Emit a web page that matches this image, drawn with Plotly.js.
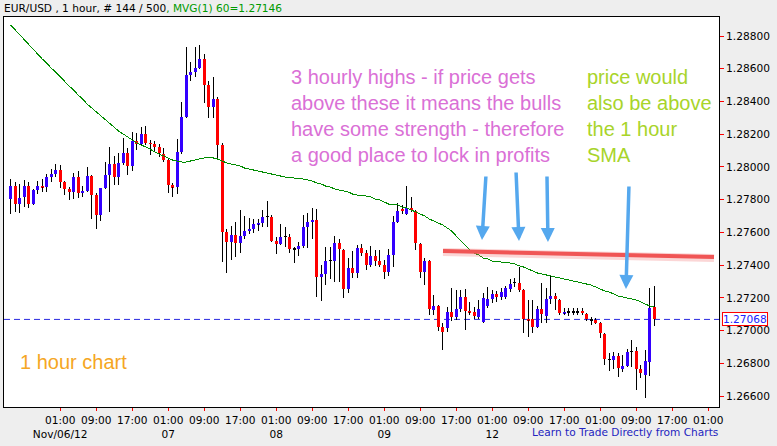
<!DOCTYPE html>
<html><head><meta charset="utf-8">
<script src="https://cdn.plot.ly/plotly-3.0.1.min.js"></script>
<style>
html,body{margin:0;padding:0;background:#eeeeee;}
#chart{width:777px;height:446px;}
.scatterlayer .js-line{shape-rendering:crispEdges;}
</style></head>
<body><div id="chart"></div>
<script>
// EUR/USD 1-hour candles (bar index 0..143)
const openP = [1.27804,1.27883,1.27773,1.27816,1.27883,1.27773,1.27859,1.27883,1.27877,1.27938,
1.27957,1.27981,1.27908,1.27865,1.27847,1.27938,1.27841,1.27853,1.27944,1.27828,
1.27706,1.27871,1.27951,1.28018,1.27938,1.28024,1.28085,1.28006,1.28158,1.28140,
1.28201,1.28146,1.28140,1.28122,1.28079,1.28042,1.27889,1.27877,1.28091,1.28305,
1.28562,1.28580,1.28604,1.28660,1.28501,1.28366,1.28415,1.28134,1.27602,1.27541,
1.27584,1.27535,1.27578,1.27608,1.27621,1.27651,1.27657,1.27694,1.27694,1.27547,
1.27529,1.27572,1.27572,1.27498,1.27498,1.27517,1.27633,1.27663,1.27676,1.27327,
1.27346,1.27425,1.27425,1.27535,1.27492,1.27254,1.27382,1.27352,1.27504,1.27474,
1.27401,1.27456,1.27425,1.27401,1.27358,1.27462,1.27663,1.27743,1.27712,1.27749,
1.27731,1.27529,1.27358,1.27425,1.27126,1.27150,1.27022,1.27016,1.27113,1.27083,
1.27132,1.27205,1.27120,1.27113,1.27083,1.27052,1.27150,1.27193,1.27223,1.27205,
1.27205,1.27254,1.27291,1.27291,1.27248,1.27071,1.27071,1.27022,1.27132,1.27089,
1.27193,1.27211,1.27187,1.27107,1.27113,1.27113,1.27113,1.27120,1.27101,1.27064,
1.27064,1.27046,1.26979,1.26820,1.26820,1.26845,1.26765,1.26783,1.26869,1.26875,
1.26765,1.26728,1.26808,1.27144];
const highP = [1.27926,1.27908,1.27896,1.27920,1.27908,1.27865,1.27914,1.27926,1.27957,1.27987,
1.28018,1.28012,1.27914,1.27877,1.27963,1.27975,1.27883,1.27999,1.27951,1.27841,
1.27871,1.28030,1.28122,1.28067,1.28085,1.28177,1.28116,1.28213,1.28207,1.28244,
1.28250,1.28164,1.28158,1.28140,1.28116,1.28055,1.27902,1.28171,1.28397,1.28733,
1.28641,1.28733,1.28745,1.28690,1.28525,1.28550,1.28427,1.28146,1.27621,1.27639,
1.27663,1.27737,1.27700,1.27688,1.27682,1.27682,1.27737,1.27792,1.27706,1.27572,
1.27651,1.27633,1.27590,1.27511,1.27541,1.27706,1.27718,1.27749,1.27743,1.27401,
1.27511,1.27511,1.27578,1.27560,1.27498,1.27443,1.27486,1.27523,1.27529,1.27492,
1.27517,1.27492,1.27492,1.27431,1.27498,1.27700,1.27779,1.27767,1.27883,1.27816,
1.27737,1.27535,1.27443,1.27431,1.27217,1.27156,1.27046,1.27144,1.27260,1.27248,
1.27248,1.27254,1.27174,1.27144,1.27187,1.27230,1.27266,1.27248,1.27242,1.27260,
1.27272,1.27315,1.27321,1.27388,1.27254,1.27187,1.27187,1.27150,1.27291,1.27260,
1.27333,1.27230,1.27193,1.27138,1.27138,1.27138,1.27138,1.27138,1.27107,1.27083,
1.27077,1.27052,1.26985,1.26863,1.26869,1.26863,1.26851,1.26887,1.26942,1.26900,
1.26790,1.26881,1.27260,1.27272];
const lowP = [1.27712,1.27725,1.27718,1.27755,1.27749,1.27767,1.27834,1.27847,1.27847,1.27908,
1.27938,1.27871,1.27828,1.27798,1.27804,1.27810,1.27816,1.27847,1.27682,1.27621,
1.27669,1.27865,1.27725,1.27889,1.27889,1.28012,1.27951,1.27975,1.28103,1.28128,
1.28134,1.28073,1.28091,1.28061,1.28030,1.27841,1.27816,1.27834,1.28079,1.28299,
1.28525,1.28550,1.28598,1.28391,1.28299,1.28299,1.28055,1.27419,1.27352,1.27431,
1.27450,1.27474,1.27560,1.27590,1.27596,1.27608,1.27633,1.27633,1.27541,1.27468,
1.27523,1.27511,1.27474,1.27413,1.27456,1.27504,1.27504,1.27560,1.27205,1.27181,
1.27278,1.27315,1.27297,1.27297,1.27199,1.27230,1.27321,1.27321,1.27456,1.27370,
1.27388,1.27394,1.27388,1.27315,1.27333,1.27388,1.27657,1.27712,1.27706,1.27725,
1.27492,1.27321,1.27278,1.27095,1.27095,1.26997,1.26881,1.26991,1.27058,1.27064,
1.27113,1.27003,1.27095,1.27071,1.27071,1.27046,1.27138,1.27168,1.27174,1.27187,
1.27193,1.27236,1.27266,1.27236,1.26985,1.26961,1.26985,1.27016,1.27046,1.27046,
1.27162,1.27126,1.27095,1.27095,1.27089,1.27095,1.27095,1.27095,1.27058,1.27034,
1.27040,1.26954,1.26790,1.26753,1.26765,1.26716,1.26747,1.26777,1.26777,1.26637,
1.26710,1.26588,1.26722,1.27028];
const closeP = [1.27883,1.27773,1.27810,1.27883,1.27773,1.27859,1.27883,1.27877,1.27938,1.27957,
1.27981,1.27908,1.27865,1.27847,1.27938,1.27841,1.27853,1.27944,1.27828,1.27706,
1.27871,1.27951,1.28018,1.27938,1.28024,1.28085,1.28006,1.28158,1.28140,1.28201,
1.28146,1.28140,1.28122,1.28085,1.28042,1.27889,1.27877,1.28091,1.28305,1.28562,
1.28580,1.28604,1.28660,1.28501,1.28366,1.28415,1.28134,1.27602,1.27541,1.27584,
1.27535,1.27578,1.27608,1.27621,1.27651,1.27657,1.27694,1.27694,1.27547,1.27529,
1.27572,1.27572,1.27498,1.27498,1.27517,1.27633,1.27663,1.27676,1.27327,1.27346,
1.27425,1.27425,1.27535,1.27498,1.27254,1.27382,1.27352,1.27504,1.27474,1.27401,
1.27456,1.27425,1.27401,1.27358,1.27462,1.27663,1.27731,1.27731,1.27749,1.27737,
1.27535,1.27358,1.27425,1.27132,1.27150,1.27022,1.26991,1.27113,1.27083,1.27132,
1.27205,1.27120,1.27113,1.27089,1.27132,1.27199,1.27193,1.27223,1.27205,1.27236,
1.27260,1.27284,1.27291,1.27248,1.27071,1.27064,1.27022,1.27132,1.27101,1.27193,
1.27211,1.27193,1.27107,1.27113,1.27113,1.27113,1.27113,1.27107,1.27071,1.27064,
1.27046,1.26985,1.26826,1.26820,1.26845,1.26771,1.26783,1.26869,1.26869,1.26765,
1.26741,1.26814,1.27138,1.27068];
// 60-period moving average
const ma60 = [1.28867,1.28837,1.28806,1.28776,1.28751,1.28721,1.28690,1.28660,1.28635,1.28604,
1.28580,1.28550,1.28525,1.28494,1.28470,1.28439,1.28415,1.28384,1.28360,1.28336,
1.28311,1.28287,1.28262,1.28238,1.28219,1.28201,1.28183,1.28164,1.28146,1.28134,
1.28122,1.28109,1.28091,1.28079,1.28067,1.28055,1.28042,1.28036,1.28030,1.28030,
1.28036,1.28042,1.28048,1.28055,1.28055,1.28055,1.28048,1.28036,1.28024,1.28018,
1.28012,1.28006,1.27993,1.27987,1.27981,1.27975,1.27969,1.27963,1.27957,1.27951,
1.27944,1.27938,1.27938,1.27932,1.27932,1.27926,1.27920,1.27914,1.27902,1.27896,
1.27883,1.27877,1.27865,1.27859,1.27853,1.27847,1.27834,1.27828,1.27828,1.27822,
1.27816,1.27804,1.27798,1.27786,1.27773,1.27773,1.27767,1.27755,1.27749,1.27737,
1.27725,1.27712,1.27700,1.27682,1.27670,1.27657,1.27645,1.27627,1.27608,1.27578,
1.27553,1.27523,1.27492,1.27474,1.27462,1.27443,1.27437,1.27425,1.27425,1.27419,
1.27413,1.27413,1.27407,1.27395,1.27388,1.27376,1.27364,1.27352,1.27346,1.27340,
1.27333,1.27327,1.27321,1.27315,1.27309,1.27303,1.27297,1.27291,1.27285,1.27278,
1.27266,1.27254,1.27242,1.27236,1.27223,1.27211,1.27205,1.27199,1.27193,1.27187,
1.27175,1.27162,1.27150,1.27146];
const tickTimes = ["01:00","09:00","17:00","01:00","09:00","17:00","01:00","09:00","17:00","01:00",
"09:00","17:00","01:00","09:00","17:00","01:00","09:00","17:00","01:00"];
const tickDates = ["Nov/06/12","","","07","","","08","","","09","","","12","","","","","",""];

const N = openP.length;
const xs = openP.map((_, i) => i);
const UP = '#3300ff', DOWN = '#ff0000', FLAT = '#000000';
const minBody = 0.00005;
const bodyBase = [], bodyH = [], bodyCol = [];
const wx = [], wy = [];
for (let i = 0; i < N; i++) {
  const o = openP[i], c = closeP[i];
  const top = Math.max(o, c), bot = Math.min(o, c);
  const h = Math.max(top - bot, minBody);
  bodyBase.push(bot); bodyH.push(h);
  bodyCol.push(c > o ? UP : (c < o ? DOWN : FLAT));
  if (highP[i] > top) { wx.push(i, i, null); wy.push(highP[i], top, null); }
  if (lowP[i] < bot) { wx.push(i, i, null); wy.push(bot, lowP[i], null); }
}
const lastClose = closeP[N - 1];
const lastMA = ma60[ma60.length - 1];

const tickvals = tickTimes.map((_, k) => 11 + 8 * k);
const ticktext = tickTimes.map((t, k) => tickDates[k] ? t + '<br>' + tickDates[k] : t);

const smallFont = {family: 'DejaVu Sans, Verdana, sans-serif', size: 10.6, color: '#000000'};
const bigFont = (c) => ({family: 'Liberation Sans, Arial, sans-serif', size: 20, color: c});

const traces = [
  {type: 'scatter', mode: 'lines', x: wx, y: wy, line: {color: '#000000', width: 1}, hoverinfo: 'skip', connectgaps: false},
  {type: 'bar', x: xs, y: bodyH, base: bodyBase, width: 0.66, marker: {color: bodyCol, line: {width: 0}}, hoverinfo: 'skip'},
  {type: 'scatter', mode: 'lines', x: xs, y: ma60, line: {color: '#008c00', width: 1}, hoverinfo: 'skip'}
];

function arrow(xp, yp, ax, ay) {
  return {xref: 'paper', yref: 'paper', x: xp, y: yp, ax: ax, ay: ay, text: '', showarrow: true,
    arrowhead: 2, arrowsize: 0.8, arrowwidth: 3.5, arrowcolor: '#55a8ee', standoff: 0};
}

const layout = {
  width: 777, height: 446,
  margin: {l: 4, r: 58, t: 17, b: 39, pad: 0},
  paper_bgcolor: '#eeeeee', plot_bgcolor: '#ffffff',
  showlegend: false, bargap: 0,
  font: smallFont,
  xaxis: {range: [-1.49, 157.4], tickmode: 'array', tickvals: tickvals, ticktext: ticktext,
    tickangle: 0, ticks: 'outside', ticklen: 3, tickwidth: 1, tickcolor: '#ff0000',
    showline: true, mirror: true, linecolor: '#000000', linewidth: 1,
    showgrid: false, zeroline: false, tickfont: smallFont, fixedrange: true},
  yaxis: {side: 'right', range: [1.265328, 1.289161], tickmode: 'linear', tick0: 1.266, dtick: 0.002,
    tickformat: '.5f', ticks: 'outside', ticklen: 4, tickwidth: 1, tickcolor: '#ff0000',
    showline: true, mirror: true, linecolor: '#000000', linewidth: 1,
    showgrid: false, zeroline: false, tickfont: smallFont, fixedrange: true},
  shapes: [
    {type: 'line', xref: 'paper', yref: 'y', x0: 0, x1: 1, y0: lastClose, y1: lastClose,
     line: {color: '#2a2ae0', width: 1, dash: '6px,4px'}, layer: 'below'},
    {type: 'line', xref: 'paper', yref: 'paper', x0: 0.6140, y0: 0.3975, x1: 0.9930, y1: 0.3821,
     line: {color: 'rgba(240,90,90,0.25)', width: 8}},
    {type: 'line', xref: 'paper', yref: 'paper', x0: 0.6140, y0: 0.4000, x1: 0.9930, y1: 0.3846,
     line: {color: '#f05555', width: 4}}
  ],
  annotations: [
    {xref: 'paper', yref: 'paper', x: -0.0028, y: 1.0231, xanchor: 'left', yanchor: 'middle', showarrow: false,
     text: 'EUR/USD , 1 hour, # ' + N + ' / 500<span style="color:#009a00">, MVG(1) 60=' + lastMA.toFixed(5) + '</span>',
     font: smallFont},
    {xref: 'paper', yref: 'paper', x: 0.3990, y: 0.7449, xanchor: 'left', yanchor: 'middle', align: 'left', showarrow: false,
     text: '3 hourly highs - if price gets<br>above these it means the bulls<br>have some strength - therefore<br>a good place to lock in profits',
     font: bigFont('#da70d6')},
    {xref: 'paper', yref: 'paper', x: 0.8126, y: 0.7449, xanchor: 'left', yanchor: 'middle', align: 'left', showarrow: false,
     text: 'price would<br>also be above<br>the 1 hour<br>SMA', font: bigFont('#a8d42a')},
    {xref: 'paper', yref: 'paper', x: 0.0196, y: 0.1154, xanchor: 'left', yanchor: 'middle', showarrow: false,
     text: '1 hour chart', font: bigFont('#f5a623')},
    {xref: 'paper', yref: 'paper', x: 1.0014, y: -0.0641, xanchor: 'right', yanchor: 'middle', showarrow: false,
     text: 'Learn to Trade Directly from Charts', font: {family: smallFont.family, size: 10.6, color: '#2424c0'}},
    {xref: 'paper', yref: 'y', x: 1, y: lastClose, xanchor: 'left', yanchor: 'middle', xshift: 3, showarrow: false,
     text: lastClose.toFixed(5), font: {family: smallFont.family, size: 10.6, color: '#2020ff'},
     bordercolor: '#ff0000', borderwidth: 1, borderpad: 0, bgcolor: '#ffffff'},
    arrow(0.6685, 0.4282, 4, -65),
    arrow(0.7203, 0.4256, -3, -70),
    arrow(0.7608, 0.4231, -1, -67),
    arrow(0.8699, 0.3026, 3, -104)
  ]
};

Plotly.newPlot('chart', traces, layout, {displayModeBar: false, responsive: false});
</script>
</body></html>
